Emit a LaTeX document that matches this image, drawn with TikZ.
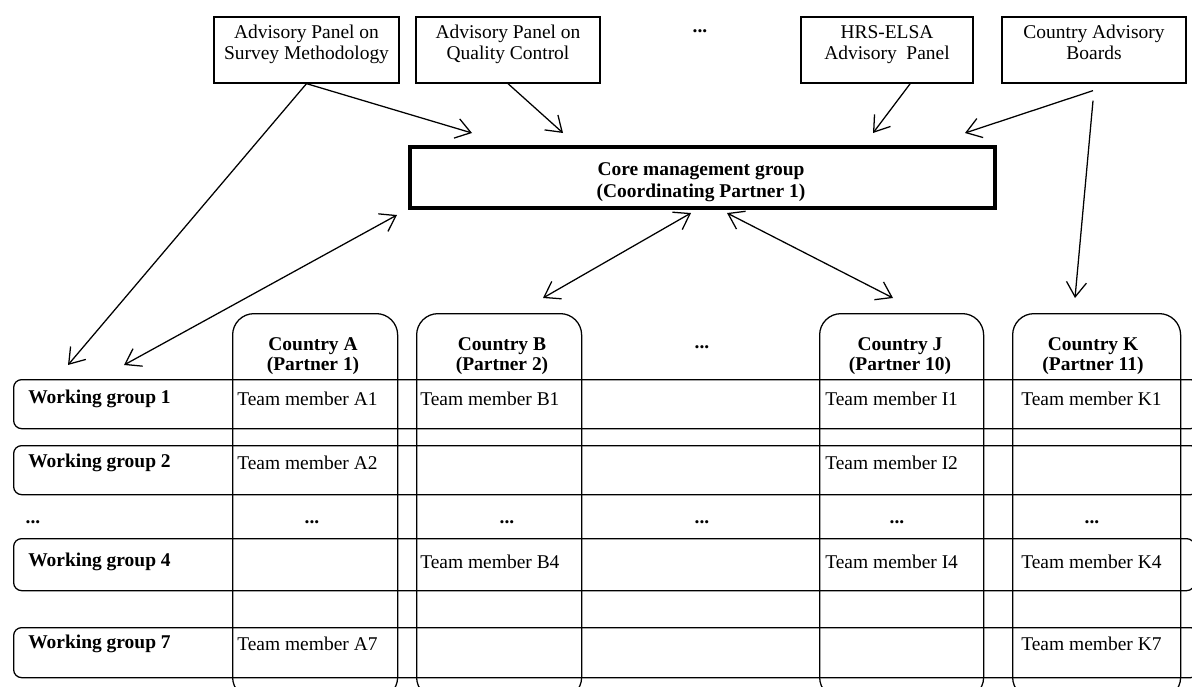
\documentclass[tikz,border=0pt]{standalone}
\usepackage{fontspec}
\setmainfont{Liberation Serif}
\usetikzlibrary{arrows.meta,calc}
\begin{document}
\begin{tikzpicture}[x=0.75pt,y=-0.75pt,
  every node/.style={font=\fontsize{14.6}{15.5}\selectfont, inner sep=0pt},
  panel/.style={draw, line width=0.95pt, align=center, minimum height=49.5pt},
  corebox/.style={draw, line width=3pt, minimum width=438.75pt, minimum height=45.75pt},
  coretext/.style={align=center, font=\bfseries\fontsize{14.6}{16.5}\selectfont},
  column/.style={draw, line width=0.95pt, rounded corners=16pt, anchor=north west, minimum height=288.75pt},
  wgrow/.style={draw, line width=0.95pt, rounded corners=6pt, anchor=north west},
  hdr/.style={font=\bfseries\fontsize{14.6}{15.5}\selectfont, align=center},
  wglabel/.style={font=\bfseries\fontsize{14.6}{15.5}\selectfont, anchor=west},
  member/.style={anchor=west},
  dots/.style={font=\bfseries\fontsize{14.6}{15.5}\selectfont},
  arr/.style={line width=0.95pt, -{Straight Barb[length=11pt,width=15pt]}},
  darr/.style={line width=0.95pt, {Straight Barb[length=11pt,width=15pt]}-{Straight Barb[length=11pt,width=15pt]}},
]
\useasboundingbox (0,0) rectangle (1192,686);
\clip (0,0) rectangle (1192,686);

% advisory panels
\node[panel, minimum width=138.75pt] (ap1) at (306.5,50) {Advisory Panel on\\Survey Methodology\\[-4pt]};
\node[panel, minimum width=138pt] (ap2) at (508,50) {Advisory Panel on\\Quality Control\\[-4pt]};
\node[dots] (topdots) at (700,31) {...};
\node[panel, minimum width=129pt] (ap3) at (887,50) {HRS-ELSA\\Advisory\ \ Panel\\[-4pt]};
\node[panel, minimum width=138pt] (ap4) at (1094,50) {Country Advisory\\Boards\\[-4pt]};

% core
\node[corebox] (core) at (702.5,177.5) {};
\node[coretext] (coretxt) at (701,182) {Core management group\\(Coordinating Partner 1)};

% country columns
\node[column, minimum width=123.75pt] (cA) at (232,313) {};
\node[column, minimum width=123.75pt] (cB) at (416,313) {};
\node[column, minimum width=123pt] (cJ) at (819,313) {};
\node[column, minimum width=126pt] (cK) at (1012,313) {};

\node[hdr] (hA) at (313,356) {Country A\\(Partner 1)};
\node[hdr] (hB) at (502,356) {Country B\\(Partner 2)};
\node[dots] (hdots) at (702,347) {...};
\node[hdr] (hJ) at (900,356) {Country J\\(Partner 10)};
\node[hdr] (hK) at (1093,356) {Country K\\(Partner 11)};

% working group rows
\node[wgrow, minimum width=888.75pt, minimum height=36.75pt] (wg1) at (13,379) {};
\node[wgrow, minimum width=888.75pt, minimum height=36.75pt] (wg2) at (13,445) {};
\node[wgrow, minimum width=885.75pt, minimum height=39pt] (wg4) at (13,538) {};
\node[wgrow, minimum width=888.75pt, minimum height=37.5pt] (wg7) at (13,627) {};

\node[wglabel] (l1) at (28,399) {Working group 1};
\node[wglabel] (l2) at (28,463) {Working group 2};
\node[wglabel] (l4) at (28,562) {Working group 4};
\node[wglabel] (l7) at (28,644) {Working group 7};

% team members
\node[member] (a1) at (237,399) {Team member A1};
\node[member] (b1) at (420,399) {Team member B1};
\node[member] (i1) at (825,399) {Team member I1};
\node[member] (k1) at (1021,399) {Team member K1};
\node[member] (a2) at (237,463) {Team member A2};
\node[member] (i2) at (825,463) {Team member I2};
\node[member] (b4) at (420,562) {Team member B4};
\node[member] (i4) at (825,562) {Team member I4};
\node[member] (k4) at (1021,562) {Team member K4};
\node[member] (a7) at (237,644) {Team member A7};
\node[member] (k7) at (1021,644) {Team member K7};

% dots row
\node[dots] (d0) at (33,522) {...};
\node[dots] (dA) at (312,522) {...};
\node[dots] (dB) at (507,522) {...};
\node[dots] (dM) at (702,522) {...};
\node[dots] (dJ) at (897,522) {...};
\node[dots] (dK) at (1092,522) {...};

% arrow end points
\coordinate (e1) at (472,133);
\coordinate (e2) at (68,365);
\coordinate (e3) at (563,133);
\coordinate (e4) at (873,133);
\coordinate (s5) at ($(ap4.south)+(-1,7)$);
\coordinate (e5) at (965,133);
\coordinate (s6) at ($(ap4.south)+(-1,17)$);
\coordinate (e6) at (1075,298);
\coordinate (c1) at (397,215);
\coordinate (w1) at (124,365);
\coordinate (c2) at (691,213);
\coordinate (b2) at (543,298);
\coordinate (c3) at (727,213);
\coordinate (j3) at (893,298);

\draw[arr] (ap1.south) -- (e1);
\draw[arr] (ap1.south) -- (e2);
\draw[arr] (ap2.south) -- (e3);
\draw[arr] ($(ap3.south west)!0.634!(ap3.south east)$) -- (e4);
\draw[arr] (s5) -- (e5);
\draw[arr] (s6) -- (e6);
\draw[darr] (w1) -- (c1);
\draw[darr] (b2) -- (c2);
\draw[darr] (j3) -- (c3);
\end{tikzpicture}
\end{document}
